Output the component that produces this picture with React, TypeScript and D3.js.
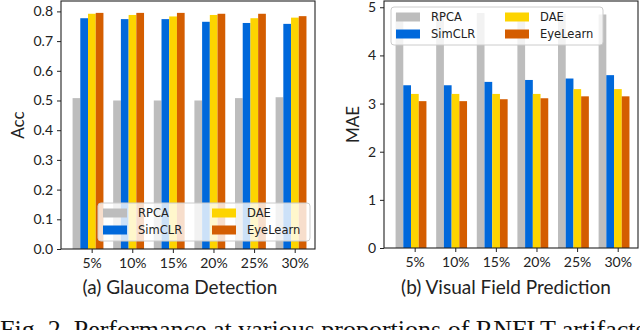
import React, { useEffect, useRef } from "react";
import { scaleLinear, select, axisLeft, axisBottom } from "d3";

const width = 640;
const height = 330;

// Data
const categories = ["5%", "10%", "15%", "20%", "25%", "30%"];
const methods = ["RPCA", "SimCLR", "DAE", "EyeLearn"];
const colors = ["#bdbdbd", "#0068db", "#fdd400", "#d45d00"];

const accRPCA = [0.508, 0.5, 0.5, 0.5, 0.508, 0.511];
const accSimCLR = [0.777, 0.774, 0.774, 0.765, 0.761, 0.758];
const accDAE = [0.792, 0.788, 0.783, 0.788, 0.777, 0.779];
const accEyeLearn = [0.795, 0.795, 0.795, 0.792, 0.792, 0.784];

const maeRPCA = [4.88, 4.88, 4.88, 4.88, 4.87, 4.85];
const maeSimCLR = [3.38, 3.38, 3.45, 3.49, 3.52, 3.59];
const maeDAE = [3.2, 3.2, 3.2, 3.2, 3.3, 3.3];
const maeEyeLearn = [3.05, 3.05, 3.09, 3.11, 3.15, 3.15];

const accTicks = [0, 0.1, 0.2, 0.3, 0.4, 0.5, 0.6, 0.7, 0.8];
const maeTicks = [0, 1, 2, 3, 4, 5];

const tickFont = "Lato, 'Open Sans', sans-serif";
const legendFont = "'DejaVu Sans', sans-serif";

const barW = 0.19;

const Panel = ({ series, yMax, ticks, tickFormat, box, yLabel, labelX, caption, legendPos }) => {
  const xAxisRef = useRef(null);
  const yAxisRef = useRef(null);

  const xScale = scaleLinear().domain([-0.665, 5.59]).range([box.left, box.right]);
  const yScale = scaleLinear().domain([0, yMax]).range([box.bottom, box.top]);

  useEffect(() => {
    const yAxis = axisLeft(yScale)
      .tickValues(ticks)
      .tickFormat(tickFormat)
      .tickSize(4)
      .tickSizeOuter(0)
      .tickPadding(4);
    const yG = select(yAxisRef.current).call(yAxis);
    yG.select(".domain").remove();
    yG.selectAll("text").attr("font-family", tickFont).attr("font-size", 14).attr("fill", "#222");
    yG.selectAll("line").attr("stroke", "#222");

    const xAxis = axisBottom(xScale)
      .tickValues(categories.map((_, i) => i + 0.09))
      .tickFormat((_, i) => categories[i])
      .tickSize(4)
      .tickSizeOuter(0)
      .tickPadding(5);
    const xG = select(xAxisRef.current).call(xAxis);
    xG.select(".domain").remove();
    xG.selectAll("text").attr("font-family", tickFont).attr("font-size", 14).attr("fill", "#222");
    xG.selectAll("line").attr("stroke", "#222");
  }, []);

  const lg = legendPos;

  return (
    <g>
      {series.map((vals, j) =>
        vals.map((v, i) => {
          const cx = i + (j - 1.5) * barW;
          const x0 = xScale(cx - barW / 2);
          const x1 = xScale(cx + barW / 2);
          return (
            <rect
              key={`${j}-${i}`}
              x={x0}
              y={yScale(v)}
              width={x1 - x0}
              height={yScale(0) - yScale(v)}
              fill={colors[j]}
            />
          );
        })
      )}
      <rect
        x={box.left}
        y={box.top}
        width={box.right - box.left}
        height={box.bottom - box.top}
        fill="none"
        stroke="#222"
        strokeWidth={1.1}
      />
      <g ref={yAxisRef} transform={`translate(${box.left},0)`} />
      <g ref={xAxisRef} transform={`translate(0,${box.bottom})`} />

      {/* legend: RPCA, SimCLR in column 1; DAE, EyeLearn in column 2 */}
      <rect
        x={lg.x}
        y={lg.y}
        width={212}
        height={38}
        rx={3}
        fill="#fff"
        fillOpacity={0.8}
        stroke="#cccccc"
        strokeWidth={1}
      />
      {methods.map((m, j) => {
        const c = j < 2 ? 0 : 1;
        const r = j % 2;
        const hx = lg.x + 5 + c * 109;
        const cy = lg.y + 10 + r * 17;
        return (
          <g key={m}>
            <rect x={hx} y={cy - 4.5} width={24} height={9} fill={colors[j]} />
            <text
              x={hx + 35}
              y={cy}
              dy="0.36em"
              fontFamily={legendFont}
              fontSize={11.5}
              fill="#222"
            >
              {m}
            </text>
          </g>
        );
      })}

      <text
        transform={`translate(${labelX},${(box.top + box.bottom) / 2}) rotate(-90)`}
        textAnchor="middle"
        fontFamily={tickFont}
        fontSize={17}
        fill="#222"
      >
        {yLabel}
      </text>
      <text
        x={caption.x}
        y={caption.y}
        textAnchor="middle"
        fontFamily={tickFont}
        fontSize={19}
        fill="#222"
      >
        {caption.text}
      </text>
    </g>
  );
};

export default function App() {
  return (
    <svg
      width={width}
      height={height}
      style={{ position: "absolute", left: 0, top: 0, background: "#fff" }}
    >
      <rect x={0} y={0} width={width} height={height} fill="#fff" />
      <Panel
        series={[accRPCA, accSimCLR, accDAE, accEyeLearn]}
        yMax={0.835}
        ticks={accTicks}
        tickFormat={(d) => d.toFixed(1)}
        box={{ left: 61, right: 315, top: 1, bottom: 249 }}
        yLabel="Acc"
        labelX={24}
        caption={{ x: 180, y: 294, text: "(a) Glaucoma Detection" }}
        legendPos={{ x: 98, y: 203 }}
      />
      <Panel
        series={[maeRPCA, maeSimCLR, maeDAE, maeEyeLearn]}
        yMax={5.13}
        ticks={maeTicks}
        tickFormat={(d) => String(d)}
        box={{ left: 384, right: 638, top: 1, bottom: 248 }}
        yLabel="MAE"
        labelX={359}
        caption={{ x: 506, y: 294, text: "(b) Visual Field Prediction" }}
        legendPos={{ x: 391, y: 7 }}
      />
      <text
        x={0}
        y={338}
        fontFamily="'Liberation Serif', 'DejaVu Serif', serif"
        fontSize={26}
        fill="#111"
      >
        Fig. 2. Performance at various proportions of RNFLT artifacts
      </text>
    </svg>
  );
}
